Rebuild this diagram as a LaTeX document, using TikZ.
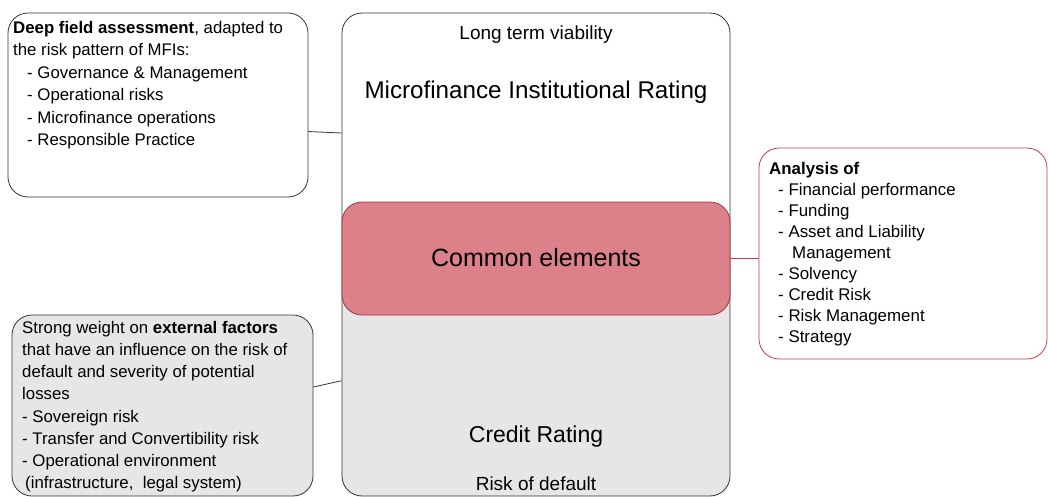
\documentclass[tikz,border=0pt]{standalone}
\usepackage{fontspec}
\setmainfont{Liberation Sans}
\usetikzlibrary{calc,positioning}

\definecolor{commonred}{HTML}{DC8189}
\definecolor{commonborder}{HTML}{9E3440}
\definecolor{analysisred}{HTML}{CC3A4C}
\definecolor{lightgrey}{HTML}{E6E6E6}
\definecolor{boxline}{HTML}{333333}

\begin{document}
\begin{tikzpicture}[x=1pt,y=-1pt,
  box/.style={draw=boxline,line width=0.8pt,rounded corners=20pt,inner sep=0pt},
  body/.style={anchor=north west,align=left,inner sep=0pt,font=\fontsize{16.8}{22.2}\selectfont},
  title/.style={font=\fontsize{24.2}{28}\selectfont},
  subtitle/.style={font=\fontsize{19}{22}\selectfont}]
  \tikzstyle{link} = [draw=boxline,line width=0.8pt]

  \useasboundingbox (0,0) rectangle (1048,497);

  % the two ratings
  \node[box,minimum width=388pt,minimum height=483pt,
    path picture={\fill[lightgrey] (path picture bounding box.west) rectangle (path picture bounding box.south east);}]
    (MIR) at (536,254.5) {};
  \node[box,draw=commonborder,fill=commonred,minimum width=388pt,minimum height=113pt] (COMMON) at (536,258.5) {};

  \node[subtitle] (VIABILITY) at (536,35) {Long term viability};
  \node[title]    (MIRTITLE)  at (536,92) {Microfinance Institutional Rating};
  \node[title,font=\fontsize{25}{28}\selectfont] (COMMONTXT) at (536,258) {Common elements};
  \node[title,font=\fontsize{23}{28}\selectfont] (CREDIT) at (536,437) {Credit Rating};
  \node[subtitle] (DEFAULT) at (536,484) {Risk of default};

  % side boxes
  \node[box,minimum width=300pt,minimum height=184pt] (FIELD) at (158,105) {};
  \node[box,fill=lightgrey,minimum width=301pt,minimum height=181pt] (FACTORS) at (162.5,405.5) {};
  \node[box,draw=analysisred,minimum width=288pt,minimum height=211pt] (ANALYSIS) at (903,253.5) {};

  \node[body,font=\fontsize{16.8}{22.5}\selectfont] (FIELDTXT) at (13,21) {\textbf{Deep field assessment}, adapted to\\
    the risk pattern of MFIs:\\
    \hspace*{14pt}- Governance \& Management\\
    \hspace*{14pt}- Operational risks\\
    \hspace*{14pt}- Microfinance operations\\
    \hspace*{14pt}- Responsible Practice};
  \node[body] (FACTORSTXT) at (22,321) {Strong weight on \textbf{external factors}\\
    that have an influence on the risk of\\
    default and severity of potential\\
    losses\\
    - Sovereign risk\\
    - Transfer and Convertibility risk\\
    - Operational environment\\
    \hspace*{3pt}(infrastructure,\ \ legal system)};
  \node[body,font=\fontsize{16.9}{21}\selectfont] (ANALYSISTXT) at (769,162) {\textbf{Analysis of}\\
    \hspace*{9pt}- Financial performance\\
    \hspace*{9pt}- Funding\\
    \hspace*{9pt}- Asset and Liability\\
    \hspace*{23pt}Management\\
    \hspace*{9pt}- Solvency\\
    \hspace*{9pt}- Credit Risk\\
    \hspace*{9pt}- Risk Management\\
    \hspace*{9pt}- Strategy};

  \path (FIELD.-10)   edge[link] (MIR.148)
        (FACTORS.7)   edge[link] (MIR.-147.5)
        (COMMON.east) edge[link,draw=analysisred] (COMMON.east -| ANALYSIS.west);

\end{tikzpicture}
\end{document}
